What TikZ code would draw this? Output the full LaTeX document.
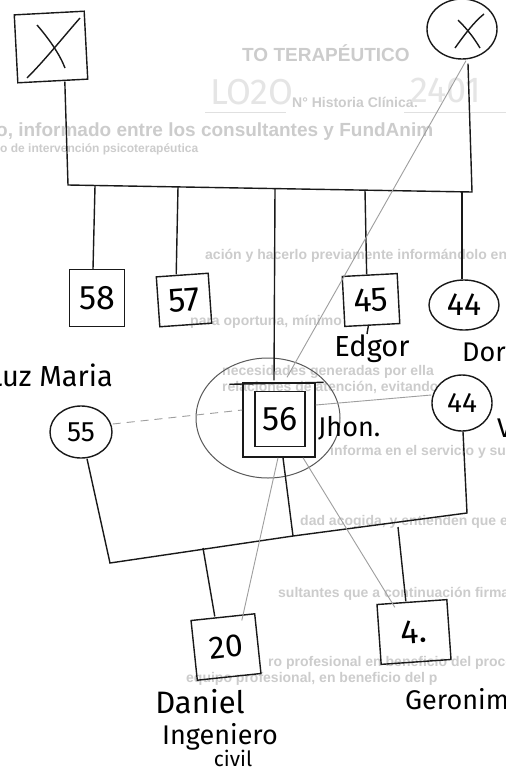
\documentclass[tikz,border=0pt]{standalone}
\usepackage{fontspec}
\setmainfont{Liberation Sans}
\newfontfamily\hand{Fira Sans}
\usetikzlibrary{shapes.geometric}
\begin{document}
\begin{tikzpicture}[x=1pt,y=-1pt,
  ink/.style={line width=1.4pt, draw=black!90},
  pencil/.style={line width=0.9pt, draw=black!38},
  bgtext/.style={text=black!20, inner sep=0, anchor=west, font=\bfseries\fontsize{14}{14}\selectfont},
  sq/.style={ink, rectangle, inner sep=0, font=\hand\fontsize{34}{34}\selectfont},
  ci/.style={ink, ellipse, inner sep=0, font=\hand\fontsize{32}{32}\selectfont},
  lab/.style={inner sep=0, font=\hand\fontsize{27}{27}\selectfont}]
\useasboundingbox (0,0) rectangle (506,782);
\fill[white] (0,0) rectangle (506,782);

% faint printed text showing through the sheet
\node[bgtext, font=\bfseries\fontsize{19}{19}\selectfont] (t1) at (242,53) {TO TERAPÉUTICO};
\node[bgtext, font=\hand\fontsize{36}{36}\selectfont, text=black!10] (t2a) at (210,92) {LO2O};
\node[bgtext] (t2) at (292,102) {N° Historia Clínica:};
\node[bgtext, font=\hand\fontsize{36}{36}\selectfont, text=black!10] (t2b) at (410,90) {2401};
\draw[black!12, line width=0.8pt] (205,112) -- (286,112);
\draw[black!12, line width=0.8pt] (404,112) -- (506,112);
\node[bgtext, font=\bfseries\fontsize{19}{19}\selectfont] (t3) at (-4,132) {o, informado entre los consultantes y FundAnim};
\node[bgtext, font=\bfseries\fontsize{12}{12}\selectfont] (t4) at (0,149) {o de intervención psicoterapéutica};
\node[bgtext] (t5) at (205,256) {ación y hacerlo previamente informándolo en re};
\node[bgtext] (t6) at (190,322) {para oportuna, mínimo};
\node[bgtext] (t7) at (222,372) {necesidades generadas por ella};
\node[bgtext] (t8) at (222,387) {relaciones de atención, evitando};
\node[bgtext] (t9) at (330,452) {informa en el servicio y sugerencias};
\node[bgtext] (t10) at (300,522) {dad acogida, y entienden que el proceso es fa};
\node[bgtext] (t11) at (278,594) {sultantes que a continuación firman, pueden part};
\node[bgtext] (t12) at (268,663) {ro profesional en beneficio del proceso)};
\node[bgtext] (t13) at (186,679) {equipo profesional, en beneficio del p};

% grandparents
\node[sq, minimum width=70, minimum height=68, rotate=3] (gf) at (51,47) {};
\draw[ink] (37,25) .. controls (50,40) and (60,55) .. (65,68);
\draw[ink] (27,78) .. controls (45,60) and (65,35) .. (80,18);
\node[ci, minimum width=70, minimum height=60] (gm) at (462,29) {};
\draw[ink] (458,20) .. controls (468,30) and (474,38) .. (480,48);
\draw[ink] (455,48) .. controls (465,34) and (474,22) .. (484,14);

% sibship line
\coordinate (sibL) at (68,185);
\coordinate (sibR) at (472,192);
\draw[ink] ([xshift=12pt]gf.south) -- (sibL) -- (sibR) -- ([xshift=6pt,yshift=-4pt]gm.south);

% siblings
\node[sq, minimum width=55, minimum height=57] (s58) at (97,298) {58};
\node[sq, minimum width=52, minimum height=50, rotate=4] (s57) at (184,300) {57};
\node[sq, minimum width=55, minimum height=50, rotate=3] (s45) at (371,300) {45};
\node[ci, minimum width=70, minimum height=50] (c44a) at (464,305) {44};

\coordinate (j58) at (95,186);
\coordinate (j57) at (178,187);
\coordinate (j56) at (275,189);
\coordinate (j45) at (365,190);
\coordinate (j44) at (462,192);
\draw[ink] (j58) -- ([xshift=-4pt]s58.north);
\draw[ink] (j57) -- ([xshift=-6pt]s57.north);
\draw[ink] (j45) -- ([xshift=-3pt]s45.north);
\draw[ink] (j44) -- ([xshift=-2pt]c44a.north);
\coordinate (edg) at (367,334);
\draw[ink] ([xshift=-4pt]s45.south) -- (edg);

% index person 56
\node[ellipse, draw=black!65, line width=1pt, minimum width=144, minimum height=120] (halo) at (268,418) {};
\node[sq, minimum width=72, minimum height=74] (p56) at (279,420) {};
\node[sq, minimum width=50, minimum height=55] (i56) at (280,419) {56};
\draw[ink] ([xshift=-13pt,yshift=-2pt]p56.north west) -- ([xshift=8pt]p56.north east);
\draw[ink] (j56) -- ([xshift=-5pt,yshift=2pt]p56.north);

% partners
\node[ci, minimum width=62, minimum height=52] (c55) at (81,432) {\fontsize{28}{28}\selectfont 55};
\node[ci, minimum width=60, minimum height=56] (c44b) at (462,403) {\fontsize{28}{28}\selectfont 44};

% lower family
\coordinate (llc) at (110,563);
\coordinate (m56) at (293,536);
\coordinate (lrc) at (467,513);
\draw[ink] ([xshift=6pt]c55.south) -- (llc) -- (m56) -- (lrc) -- ([xshift=1pt]c44b.south);
\draw[ink] ([xshift=4pt]p56.south) -- (m56);

\node[sq, minimum width=64, minimum height=60, rotate=6, font=\hand\fontsize{32}{32}\selectfont] (s20) at (226,647) {20};
\node[sq, minimum width=70, minimum height=60, rotate=4] (s4) at (414,632) {4.};
\coordinate (j20) at (203,548);
\coordinate (j4) at (398,527);
\draw[ink] (j20) -- ([xshift=-8pt]s20.north);
\draw[ink] (j4) -- ([xshift=-6pt]s4.north);

% pencil relation lines
\draw[pencil] ([xshift=4pt,yshift=-1pt]gm.south) -- ([xshift=8pt,yshift=5pt]p56.north);
\draw[pencil] ([xshift=-1pt]p56.south) -- ([xshift=19pt,yshift=-4pt]s20.north);
\draw[pencil] ([xshift=24pt]p56.south) -- ([xshift=-17pt,yshift=-6pt]s4.north);
\draw[pencil] ([yshift=15pt]p56.east) -- ([yshift=8pt]c44b.west);
\draw[pencil, dash pattern=on 8pt off 6pt] ([yshift=8pt]c55.east) -- ([yshift=10pt]p56.west);

% handwritten names
\node[lab, anchor=east, font=\hand\fontsize{29}{29}\selectfont] (lluz) at (113,375) {Luz Maria};
\node[lab, font=\hand\fontsize{29}{29}\selectfont] (ledg) at (372,349) {Edgor};
\node[lab, anchor=west] (ldor) at (462,352) {Dor};
\node[lab, anchor=west] (ljhon) at (318,428) {Jhon.};
\node[lab, anchor=west] (lv) at (497,428) {V};
\node[lab, font=\hand\fontsize{31}{31}\selectfont] (ldan) at (200,702) {Daniel};
\node[lab, font=\hand\fontsize{27}{27}\selectfont] (ling) at (220,737) {Ingeniero};
\node[lab, font=\hand\fontsize{21}{21}\selectfont] (lciv) at (233,758) {civil};
\node[lab, anchor=west] (lger) at (405,699) {Geronimo};
\end{tikzpicture}
\end{document}
